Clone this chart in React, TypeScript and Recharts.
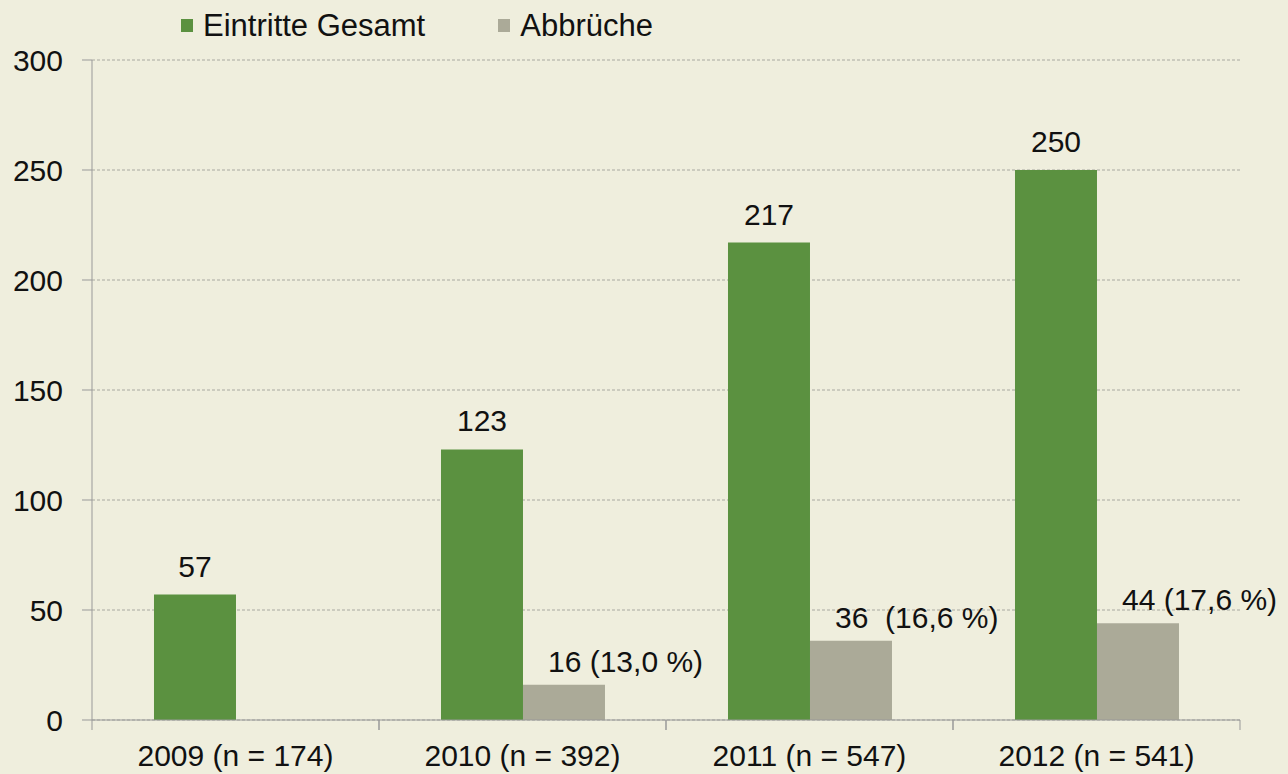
import {
    BarChart,
    Bar,
    XAxis,
    YAxis,
    CartesianGrid,
    Legend,
    LabelList,
} from "recharts";

const years = ["2009 (n = 174)", "2010 (n = 392)", "2011 (n = 547)", "2012 (n = 541)"];
const eintritte = [57, 123, 217, 250];
const abbrueche = [null, 16, 36, 44];
const abbruchLabels = ["", "16 (13,0 %)", "36  (16,6 %)", "44 (17,6 %)"];
const yTicks = [0, 50, 100, 150, 200, 250, 300];

const data = years.map((y, i) => ({
    name: y,
    eintritte: eintritte[i],
    abbrueche: abbrueche[i],
    label: abbruchLabels[i],
}));

const GREEN = "#5b9140";
const GREY = "#abaa98";
const BG = "#efeedd";
const AXIS = "#999";
const FONT = "'Liberation Sans', Arial, sans-serif";
const X_TICK_GAP = 25;

// category label plus the small tick marks at the category edges
function YearTick(props: any) {
    const { x, y, payload } = props;
    const half = payload.offset || 0;
    const axisY = y - X_TICK_GAP;
    return (
        <g>
            <line x1={x - half} x2={x - half} y1={axisY} y2={axisY + 10} stroke={AXIS} />
            <line x1={x + half} x2={x + half} y1={axisY} y2={axisY + 10} stroke={AXIS} />
            <text x={x} y={y} dy="0.71em" textAnchor="middle" fontSize={30} fill="#111" fontFamily={FONT}>
                {payload.value}
            </text>
        </g>
    );
}

function AbbruchLabel(props: any) {
    const { x, y, value } = props;
    if (!value) return null;
    return (
        <text x={x + 25} y={y - 13} fontSize={30} fill="#111" fontFamily={FONT} style={{ whiteSpace: "pre" }}>
            {value}
        </text>
    );
}

function LegendContent() {
    const item = (color: string, label: string) => (
        <span style={{ display: "inline-flex", alignItems: "center", marginRight: 73 }}>
            <span style={{ width: 12, height: 13, background: color, marginRight: 10, display: "inline-block" }} />
            <span>{label}</span>
        </span>
    );
    return (
        <div style={{ fontFamily: FONT, fontSize: 31, color: "#111", paddingLeft: 181, lineHeight: "44px" }}>
            {item(GREEN, "Eintritte Gesamt")}
            {item(GREY, "Abbrüche")}
        </div>
    );
}

export default function App() {
    return (
        <div style={{ position: "absolute", left: 0, top: 0, width: 1288, height: 774, background: BG }}>
            <BarChart
                width={1288}
                height={774}
                data={data}
                margin={{ top: 16, right: 48, bottom: 0, left: 0 }}
                barCategoryGap="21.6%"
                barGap={0}
            >
                <Legend verticalAlign="top" align="left" height={44} content={<LegendContent />} wrapperStyle={{ top: 0, left: 0 }} />
                <CartesianGrid vertical={false} stroke="#a8a8a0" strokeDasharray="3 2" />
                <XAxis
                    dataKey="name"
                    height={54}
                    tickLine={false}
                    tickSize={6}
                    tickMargin={X_TICK_GAP - 6}
                    axisLine={{ stroke: AXIS }}
                    tick={<YearTick />}
                />
                <YAxis
                    width={92}
                    domain={[0, 300]}
                    ticks={yTicks}
                    axisLine={{ stroke: AXIS }}
                    tickLine={{ stroke: AXIS }}
                    tickSize={10}
                    tickMargin={19}
                    tick={{ fontSize: 30, fill: "#111", fontFamily: FONT }}
                />
                <Bar dataKey="eintritte" fill={GREEN} isAnimationActive={false}>
                    <LabelList dataKey="eintritte" position="top" offset={18} fill="#111" fontSize={30} fontFamily={FONT} />
                </Bar>
                <Bar dataKey="abbrueche" fill={GREY} isAnimationActive={false}>
                    <LabelList dataKey="label" content={<AbbruchLabel />} />
                </Bar>
            </BarChart>
        </div>
    );
}
